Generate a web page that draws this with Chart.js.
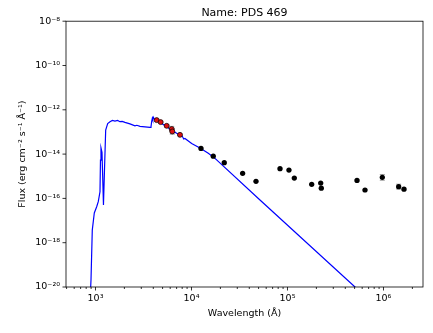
<!DOCTYPE html>
<html>
<head>
<meta charset="utf-8">
<script src="https://cdn.jsdelivr.net/npm/chart.js@4"></script>
<style>
  body { margin: 0; background: #fff; }
</style>
</head>
<body>
<canvas id="sed" width="433" height="333"></canvas>
<script>
// model spectrum (blue line)
const modelWave = [880, 898, 926, 972, 1029, 1069, 1114, 1127, 1141, 1169, 1211, 1241, 1277, 1340, 1416,
  1500, 1596, 1700, 1799, 1900, 2028, 2286, 2577, 2700, 2909, 3281, 3698, 3785, 3850, 3907, 3950,
  4000, 4100, 4340, 4898, 5520, 6223, 7290, 8000, 8300, 8550, 10040, 12260, 14960, 17580, 51700,
  505000, 920000];
const modelFlux = [3e-21, 2.1e-20, 3.7e-18, 2.2e-17, 4.2e-17, 7.1e-17, 2.0e-16, 5.4e-15, 1.9e-14, 1.2e-14,
  5e-17, 1.9e-15, 1.2e-13, 2.4e-13, 2.9e-13,
  3.3e-13, 3.1e-13, 3.3e-13, 2.9e-13, 3.0e-13, 2.7e-13, 2.3e-13, 1.9e-13, 2.0e-13, 1.8e-13, 1.7e-13,
  1.6e-13, 1.7e-13, 3.0e-13, 4.1e-13, 3.5e-13,
  4.6e-13, 3.8e-13, 3.4e-13, 2.4e-13, 1.7e-13, 1.2e-13, 7.8e-14, 6.5e-14, 4.8e-14, 5.1e-14, 3.0e-14,
  1.9e-14, 1.08e-14, 6.4e-15, 8.5e-17, 1.0e-20, 9e-22];

// photometry, red points (optical)
const redWave = [4340, 4775, 5516, 6223, 6310, 7586];
const redFlux = [3.42e-13, 2.78e-13, 1.89e-13, 1.35e-13, 1.05e-13, 7.4e-14];
const redErr = [0.03, 0.03, 0.05, 0.12, 0.12, 0.03];

// photometry, black points
const blackWave = [12560, 16860, 21960, 34100, 47000, 83600, 103600, 117800, 178700, 221800, 225000,
  530000, 642000, 972000, 1439000, 1635000];
const blackFlux = [1.81e-14, 8.1e-15, 4.1e-15, 1.35e-15, 5.9e-16, 2.2e-15, 1.9e-15, 8.3e-16, 4.3e-16,
  4.9e-16, 2.9e-16, 6.5e-16, 2.4e-16, 8.9e-16, 3.4e-16, 2.6e-16];
const blackErr = [0.02, 0.02, 0.02, 0.02, 0.02, 0.02, 0.02, 0.02, 0.02, 0.02, 0.02, 0.03, 0.03, 0.13,
  0.11, 0.04];

const xMajorTicks = [1e3, 1e4, 1e5, 1e6];
const yTicks = [1e-20, 1e-18, 1e-16, 1e-14, 1e-12, 1e-10, 1e-8];

const xMin = 493, xMax = 2.58e6;
const fam = "'DejaVu Sans', sans-serif";
const tickFont = { family: fam, size: 9.5 };

const sup = { '-': '⁻', '0': '⁰', '1': '¹', '2': '²', '3': '³', '4': '⁴', '5': '⁵', '6': '⁶', '7': '⁷', '8': '⁸', '9': '⁹' };
function powLabel(v) {
    const e = Math.round(Math.log10(v));
    return '10' + String(e).split('').map(c => sup[c]).join('');
}

function toPoints(xs, ys) {
    return xs.map((x, i) => ({ x: x, y: ys[i] }));
}

// gray error bars under the markers
const errorBars = {
    id: 'errorBars',
    beforeDatasetsDraw(chart) {
        const { ctx, scales } = chart;
        ctx.save();
        ctx.strokeStyle = '#a0a0a0';
        ctx.lineWidth = 1;
        chart.data.datasets.forEach(ds => {
            if (!ds.errDex) return;
            ds.data.forEach((p, i) => {
                const e = ds.errDex[i];
                const px = scales.x.getPixelForValue(p.x);
                const top = scales.y.getPixelForValue(p.y * Math.pow(10, e));
                const bot = scales.y.getPixelForValue(p.y / Math.pow(10, e));
                ctx.beginPath();
                ctx.moveTo(px, top); ctx.lineTo(px, bot);
                ctx.moveTo(px - 2.5, top); ctx.lineTo(px + 2.5, top);
                ctx.moveTo(px - 2.5, bot); ctx.lineTo(px + 2.5, bot);
                ctx.stroke();
            });
        });
        ctx.restore();
    }
};

// box around the plot and outward tick marks
const frame = {
    id: 'frame',
    afterDraw(chart) {
        const { ctx, chartArea: a, scales } = chart;
        ctx.save();
        ctx.strokeStyle = '#000';
        ctx.lineWidth = 0.8;
        ctx.strokeRect(a.left, a.top, a.right - a.left, a.bottom - a.top);
        scales.x.ticks.forEach(t => {
            const px = scales.x.getPixelForValue(t.value);
            const len = xMajorTicks.includes(t.value) ? 3.5 : 2;
            ctx.beginPath();
            ctx.moveTo(px, a.bottom);
            ctx.lineTo(px, a.bottom + len);
            ctx.stroke();
        });
        scales.y.ticks.forEach(t => {
            const py = scales.y.getPixelForValue(t.value);
            ctx.beginPath();
            ctx.moveTo(a.left, py);
            ctx.lineTo(a.left - 3.5, py);
            ctx.stroke();
        });
        ctx.restore();
    }
};

new Chart(document.getElementById('sed'), {
    type: 'scatter',
    data: {
        datasets: [
            {
                label: 'red',
                data: toPoints(redWave, redFlux),
                errDex: redErr,
                backgroundColor: '#dd1111',
                borderColor: '#000',
                borderWidth: 0.7,
                pointRadius: 2.5,
                order: 1
            },
            {
                label: 'black',
                data: toPoints(blackWave, blackFlux),
                errDex: blackErr,
                backgroundColor: '#000',
                borderWidth: 0,
                pointRadius: 2.6,
                order: 2
            },
            {
                label: 'model',
                type: 'line',
                data: toPoints(modelWave, modelFlux),
                borderColor: '#0000ff',
                borderWidth: 1.2,
                pointRadius: 0,
                tension: 0,
                fill: false,
                order: 3
            }
        ]
    },
    options: {
        responsive: false,
        animation: false,
        layout: { padding: { left: 0, right: 10, top: 0, bottom: 0 } },
        plugins: {
            legend: { display: false },
            tooltip: { enabled: false },
            title: {
                display: true,
                text: 'Name: PDS 469',
                color: '#000',
                fullSize: false,
                font: { family: fam, size: 11, weight: 'normal' },
                padding: { top: 7, bottom: 1 }
            }
        },
        scales: {
            x: {
                type: 'logarithmic',
                min: xMin,
                max: xMax,
                grid: { display: false, drawTicks: false },
                border: { display: false },
                afterBuildTicks: s => {
                    const ticks = [];
                    for (let n = 2; n <= 6; n++) {
                        for (let k = 1; k <= 9; k++) {
                            const v = k === 1 ? xMajorTicks[n - 3] : k * Math.pow(10, n);
                            if (v !== undefined && v >= xMin && v <= xMax) ticks.push({ value: v });
                        }
                    }
                    s.ticks = ticks;
                },
                afterFit: s => { s.height = 46; },
                ticks: {
                    autoSkip: false,
                    maxRotation: 0,
                    padding: 6,
                    color: '#000',
                    font: tickFont,
                    callback: v => xMajorTicks.includes(v) ? powLabel(v) : ''
                },
                title: {
                    display: true,
                    text: 'Wavelength (Å)',
                    color: '#000',
                    font: { family: fam, size: 9.5 },
                    padding: { top: 0, bottom: 14 }
                }
            },
            y: {
                type: 'logarithmic',
                min: 1e-20,
                max: 1e-8,
                grid: { display: false, drawTicks: false },
                border: { display: false },
                afterBuildTicks: s => { s.ticks = yTicks.map(v => ({ value: v })); },
                afterFit: s => { s.width = 66; },
                ticks: {
                    autoSkip: false,
                    padding: 6,
                    color: '#000',
                    font: tickFont,
                    callback: v => powLabel(v)
                },
                title: {
                    display: true,
                    text: 'Flux (erg cm⁻² s⁻¹ Å⁻¹)',
                    color: '#000',
                    font: { family: fam, size: 9.5 },
                    padding: { top: 17, bottom: 0 }
                }
            }
        }
    },
    plugins: [errorBars, frame]
});
</script>
</body>
</html>
